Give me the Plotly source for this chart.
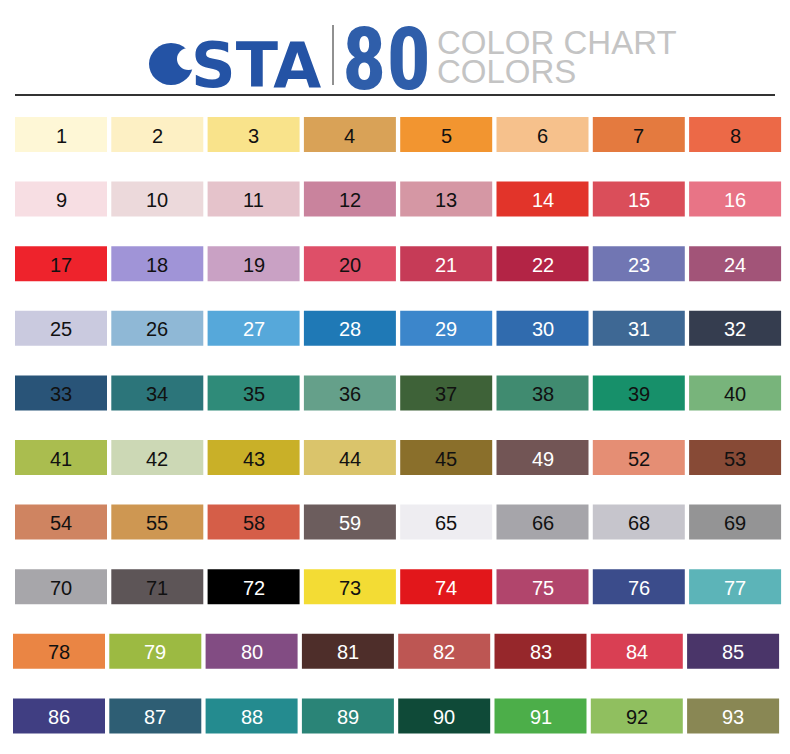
import plotly.graph_objects as go

# colour codes, read row by row (8 per row)
codes = [
    1, 2, 3, 4, 5, 6, 7, 8,
    9, 10, 11, 12, 13, 14, 15, 16,
    17, 18, 19, 20, 21, 22, 23, 24,
    25, 26, 27, 28, 29, 30, 31, 32,
    33, 34, 35, 36, 37, 38, 39, 40,
    41, 42, 43, 44, 45, 49, 52, 53,
    54, 55, 58, 59, 65, 66, 68, 69,
    70, 71, 72, 73, 74, 75, 76, 77,
    78, 79, 80, 81, 82, 83, 84, 85,
    86, 87, 88, 89, 90, 91, 92, 93,
]

swatches = [
    '#FEF7D6', '#FDF0C4', '#F9E38B', '#D9A257', '#F29530', '#F6C18C', '#E47A3F', '#EC6947',
    '#F7DEE3', '#ECD9DB', '#E5C3CB', '#C9839D', '#D597A4', '#E2342A', '#DA4E5A', '#E87486',
    '#EE232C', '#A094D7', '#C9A1C4', '#DE4F68', '#C63B57', '#B32445', '#7176B3', '#A25478',
    '#CACADF', '#8FB8D6', '#56A8DA', '#1F79B6', '#3C86CB', '#306BAE', '#3E6894', '#353D4F',
    '#295478', '#2C757A', '#2F8B79', '#65A08A', '#3E6238', '#408B70', '#17906A', '#78B47B',
    '#AABD4F', '#CCD8B5', '#C9B028', '#DAC46B', '#8A6F2B', '#725555', '#E58E74', '#874A36',
    '#CF8461', '#CE9752', '#D55E48', '#6C5D5D', '#EEEDF1', '#A6A5AA', '#C6C5CC', '#949495',
    '#A7A6AA', '#5D5557', '#000000', '#F3DC34', '#E2171B', '#B1456C', '#3B4C8B', '#5CB4B8',
    '#EA8544', '#9CBA42', '#824C83', '#4E2E2A', '#BD5653', '#96272B', '#D93F53', '#4A3569',
    '#403E82', '#2E5E74', '#248B8F', '#2A8477', '#0F4A38', '#4CAE49', '#90BF5F', '#898754',
]

# codes whose number is printed in white
white_labels = [14, 15, 16, 21, 22, 23, 24, 27, 28, 29, 30, 31, 32, 49, 59,
                72, 74, 75, 76, 77, 79, 80, 81, 82, 83, 84, 85,
                86, 87, 88, 89, 90, 91, 93]

n_cols = 8

fig = go.Figure()

shapes = []
annotations = []

# swatch grid
cell_w, cell_h = 92, 35
pitch_x, pitch_y = 96.3, 64.6
left, top = 15, 117
for i, (code, col) in enumerate(zip(codes, swatches)):
    r, c = divmod(i, n_cols)
    x0 = left + c * pitch_x - (2 if r >= 8 else 0)
    y0 = top + r * pitch_y
    shapes.append(dict(type='rect', xref='x', yref='y', x0=x0, x1=x0 + cell_w,
                       y0=y0, y1=y0 + cell_h, fillcolor=col, line=dict(width=0),
                       layer='below'))
    annotations.append(dict(x=x0 + cell_w / 2, y=y0 + cell_h / 2 + 1, xref='x', yref='y',
                            text=str(code), showarrow=False,
                            xanchor='center', yanchor='middle',
                            font=dict(family='Liberation Sans, Arial, sans-serif', size=20,
                                      color='#FFFFFF' if code in white_labels else '#111111')))

# header: logo
blue = '#2453A5'
shapes.append(dict(type='circle', xref='x', yref='y', x0=149, x1=193, y0=43, y1=85,
                   fillcolor=blue, line=dict(width=0)))
shapes.append(dict(type='circle', xref='x', yref='y', x0=177, x1=200, y0=48, y1=70,
                   fillcolor='white', line=dict(width=0)))
annotations.append(dict(x=256, y=65, xref='x', yref='y', text='<b>STA</b>', showarrow=False,
                        xanchor='center', yanchor='middle',
                        font=dict(family='DejaVu Sans, sans-serif', size=62, color=blue)))
# separator
shapes.append(dict(type='line', xref='x', yref='y', x0=333, x1=333, y0=25, y1=85,
                   line=dict(color='#222222', width=1)))
annotations.append(dict(x=386, y=58, xref='x', yref='y', text='<b>80</b>', showarrow=False,
                        xanchor='center', yanchor='middle',
                        font=dict(family='Liberation Sans Narrow, Roboto Condensed, Liberation Sans, sans-serif',
                                  size=88, color='#2F5EAA')))
annotations.append(dict(x=435, y=42, xref='x', yref='y', text='COLOR CHART', showarrow=False,
                        xanchor='left', yanchor='middle',
                        font=dict(family='Liberation Sans, Arial, sans-serif', size=33, color='#C4C4C4')))
annotations.append(dict(x=435, y=71, xref='x', yref='y', text='COLORS', showarrow=False,
                        xanchor='left', yanchor='middle',
                        font=dict(family='Liberation Sans, Arial, sans-serif', size=33, color='#C4C4C4')))
# rule under header
shapes.append(dict(type='line', xref='x', yref='y', x0=15, x1=775, y0=95, y1=95,
                   line=dict(color='#333333', width=2)))

# the page body has an 8px margin: size the figure so that axis units
# line up with window pixels
fig.update_layout(
    width=782, height=746,
    margin=dict(l=0, r=0, t=0, b=0),
    paper_bgcolor='white', plot_bgcolor='white',
    shapes=shapes, annotations=annotations,
    showlegend=False,
    xaxis=dict(range=[8, 790], visible=False, fixedrange=True),
    yaxis=dict(range=[754, 8], visible=False, fixedrange=True),
)

fig.write_html("out.html")
